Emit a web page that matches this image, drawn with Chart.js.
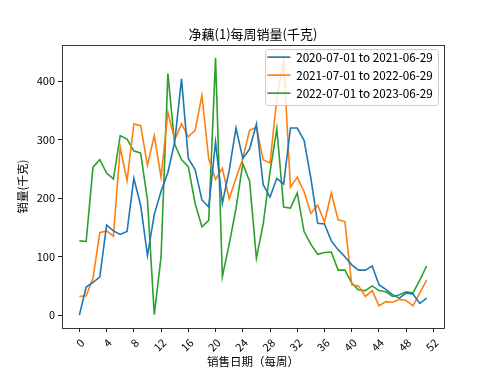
<!DOCTYPE html>
<html>
<head>
<meta charset="utf-8">
<script src="https://cdn.jsdelivr.net/npm/chart.js@4"></script>
<style>
  html, body { margin: 0; padding: 0; background: #fff; }
  #wrap { width: 493px; height: 370px; position: relative; }
</style>
</head>
<body>
<div id="wrap"><canvas id="c" width="493" height="370"></canvas></div>
<script>
const titleText = '净藕(1)每周销量(千克)';
const xTitle = '销售日期（每周）';
const yTitle = '销量(千克)';
const seriesNames = ['2020-07-01 to 2021-06-29', '2021-07-01 to 2022-06-29', '2022-07-01 to 2023-06-29'];
const weeks = [0,1,2,3,4,5,6,7,8,9,10,11,12,13,14,15,16,17,18,19,20,21,22,23,24,25,26,27,28,29,30,31,32,33,34,35,36,37,38,39,40,41,42,43,44,45,46,47,48,49,50,51];
const xTicks = [0,4,8,12,16,20,24,28,32,36,40,44,48,52];
const yTicks = [0,100,200,300,400];
const sales2020 = [0,48,56,65,154,144,138,143,234,188,102,172,212,244,296,404,268,249,197,185,296,191,247,320,268,284,327,223,202,234,224,320,320,299,234,157,156,127,112,100,86,77,77,84,52,44,35,29,38,36,20,29];
const sales2021 = [32,33,63,141,144,135,287,230,327,324,256,307,236,347,300,327,305,316,376,267,232,251,199,234,268,316,321,266,260,371,435,219,236,211,174,188,159,209,163,160,52,50,32,42,16,23,22,27,25,16,38,60];
const sales2022 = [127,126,253,266,243,233,307,301,281,277,197,1,100,413,292,266,254,191,151,162,440,66,121,182,259,229,97,156,245,319,185,183,209,143,121,104,107,108,77,77,55,43,42,50,42,40,32,35,40,38,60,84];
const colors = ['#1f77b4', '#ff7f0e', '#2ca02c'];

const FONT = '"Noto Sans CJK SC", "Noto Sans", sans-serif';
Chart.defaults.font.family = FONT;
Chart.defaults.color = '#000';

function pts(arr) { return weeks.map((w, i) => ({x: w, y: arr[i]})); }

const frameAndText = {
  id: 'frameAndText',
  beforeDraw(chart) {
    const lg = chart.legend;
    if (lg) {
      lg.left = 261; lg.top = 45;
      lg.right = lg.left + 185; lg.bottom = lg.top + 64;
    }
  },
  afterDatasetsDraw(chart) {
    const ctx = chart.ctx;
    const a = chart.chartArea;
    ctx.save();
    const fx = 265.5, fy = 49.5, fw = 173, fh = 56, r = 3;
    ctx.beginPath();
    ctx.moveTo(fx + r, fy);
    ctx.lineTo(fx + fw - r, fy); ctx.quadraticCurveTo(fx + fw, fy, fx + fw, fy + r);
    ctx.lineTo(fx + fw, fy + fh - r); ctx.quadraticCurveTo(fx + fw, fy + fh, fx + fw - r, fy + fh);
    ctx.lineTo(fx + r, fy + fh); ctx.quadraticCurveTo(fx, fy + fh, fx, fy + fh - r);
    ctx.lineTo(fx, fy + r); ctx.quadraticCurveTo(fx, fy, fx + r, fy);
    ctx.closePath();
    ctx.fillStyle = 'rgba(255,255,255,0.8)';
    ctx.fill();
    ctx.strokeStyle = '#cccccc';
    ctx.lineWidth = 1;
    ctx.stroke();
    ctx.restore();
    if (chart.legend) chart.legend.draw();
    ctx.save();
    ctx.strokeStyle = '#222';
    ctx.lineWidth = 0.9;
    ctx.strokeRect(Math.round(a.left) + 0.5, Math.round(a.top) + 0.5, Math.round(a.right - a.left), Math.round(a.bottom - a.top));
    ctx.restore();
  },
  afterDraw(chart) {
    const ctx = chart.ctx;
    const a = chart.chartArea;
    const cx = (a.left + a.right) / 2;
    ctx.save();
    ctx.fillStyle = '#000';
    ctx.textAlign = 'center';
    ctx.textBaseline = 'middle';
    ctx.font = '13px ' + FONT;
    ctx.fillText(titleText, cx, 34);
    ctx.font = '11.5px ' + FONT;
    ctx.fillText(xTitle, cx, 362);
    ctx.translate(23, (a.top + a.bottom) / 2);
    ctx.rotate(-Math.PI / 2);
    ctx.fillText(yTitle, 0, 0);
    ctx.restore();
  }
};

const ds = (i, arr) => ({
  label: seriesNames[i], data: pts(arr),
  borderColor: colors[i], backgroundColor: colors[i],
  borderWidth: 1.6, pointRadius: 0, pointHoverRadius: 0, tension: 0, fill: false
});

new Chart(document.getElementById('c'), {
  type: 'line',
  data: { datasets: [ds(0, sales2020), ds(1, sales2021), ds(2, sales2022)] },
  options: {
    responsive: false,
    animation: false,
    devicePixelRatio: 1,
    layout: { padding: { top: 45, right: 49, bottom: 0, left: 0 } },
    plugins: {
      title: { display: false },
      tooltip: { enabled: false },
      legend: {
        display: true,
        position: 'chartArea',
        align: 'start',
        labels: {
          usePointStyle: true,
          pointStyle: 'line',
          pointStyleWidth: 23,
          boxHeight: 11.5,
          padding: 6.3,
          font: { size: 11.7 },
          color: '#000'
        }
      }
    },
    scales: {
      x: {
        type: 'linear',
        min: -2.55,
        max: 53.55,
        afterBuildTicks: (s) => { s.ticks = xTicks.map(v => ({ value: v })); },
        afterFit: (s) => { s.height = 42; },
        ticks: { autoSkip: false, minRotation: 45, maxRotation: 45, padding: 4, labelOffset: 3, font: { size: 11 }, color: '#000' },
        grid: { display: true, drawOnChartArea: false, drawTicks: true, tickLength: 4, tickColor: '#000', tickWidth: 0.9 },
        border: { display: false }
      },
      y: {
        type: 'linear',
        min: -22,
        max: 462,
        afterBuildTicks: (s) => { s.ticks = yTicks.map(v => ({ value: v })); },
        afterFit: (s) => { s.width = 62; },
        ticks: { padding: 3, font: { size: 11 }, color: '#000' },
        grid: { display: true, drawOnChartArea: false, drawTicks: true, tickLength: 4, tickColor: '#000', tickWidth: 0.9 },
        border: { display: false }
      }
    }
  },
  plugins: [frameAndText]
});
</script>
</body>
</html>
